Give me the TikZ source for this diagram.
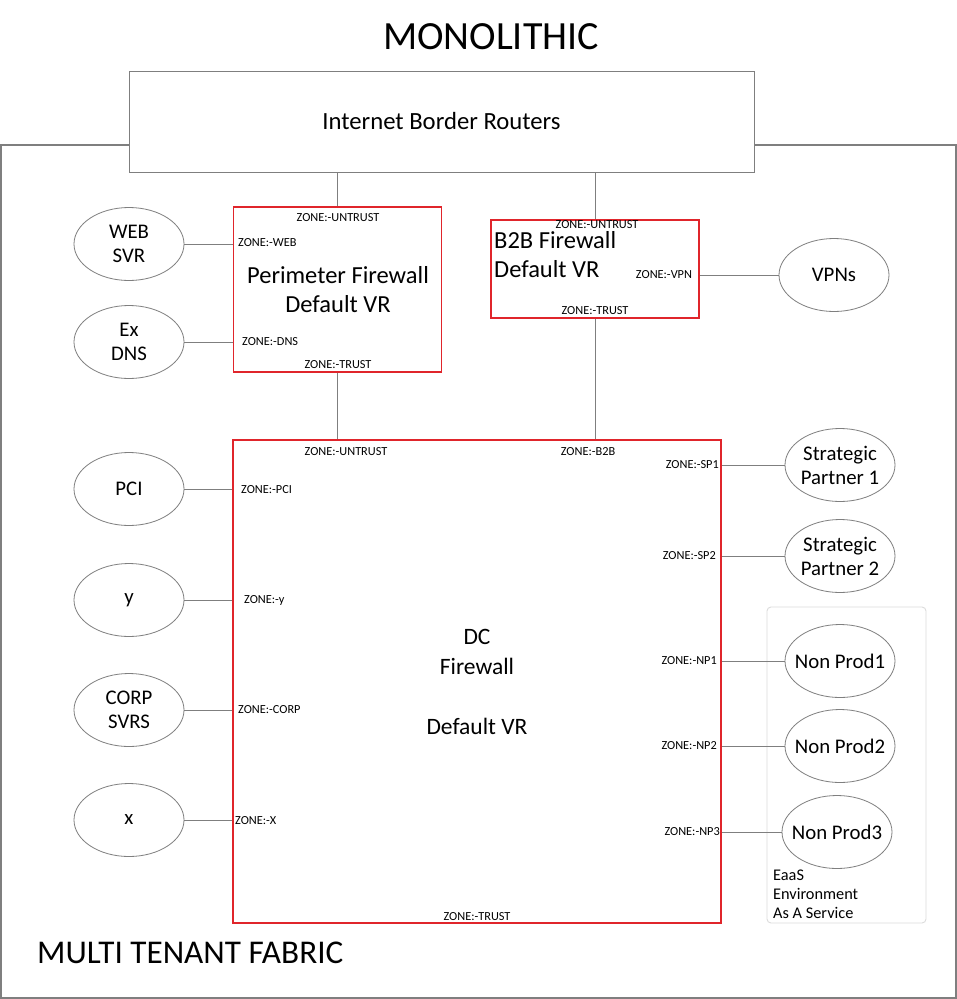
\documentclass[tikz,border=0pt]{standalone}
\usepackage{fontspec}
\setmainfont{Carlito}
\usetikzlibrary{shapes.geometric}
\definecolor{lgray}{HTML}{7F7F7F}
\definecolor{fwred}{HTML}{E0252B}
\definecolor{eaas}{HTML}{DCDCDC}
\tikzset{
  conn/.style={draw=lgray, line width=0.9pt},
  plainbox/.style={draw=lgray, line width=1pt, fill=white, rectangle, inner sep=0pt},
  fwbox/.style={draw=fwred, line width=1.5pt, rectangle, inner sep=0pt},
  oval/.style={draw=lgray, line width=0.8pt, ellipse, inner xsep=-10pt, inner ysep=0pt, minimum width=110pt, minimum height=73pt, align=center, font=\fontsize{20.8}{24}\selectfont},
  zone/.style={font=\fontsize{12.3}{13}\selectfont, inner sep=0pt},
  big/.style={font=\fontsize{24.5}{29}\selectfont, align=center, inner sep=0pt}
}
\begin{document}
\begin{tikzpicture}[x=1pt,y=-1pt]
\useasboundingbox (0,0) rectangle (957,999);
\fill[white] (0,0) rectangle (957,999);
% outer fabric box
\draw[draw=lgray, line width=1.2pt] (1,145) rectangle (956,998);
% internet border routers
\node[plainbox, minimum width=625pt, minimum height=101pt, font=\fontsize{24.7}{28}\selectfont] (ibr) at (441.5,121.5) {Internet Border Routers};
\node[font=\fontsize{40}{46}\selectfont, inner sep=0pt] (title) at (491,37) {MONOLITHIC};
% Perimeter firewall
\node[fwbox, minimum width=208pt, minimum height=165pt] (pfw) at (337.5,289.5) {};
\node[big] (pfwt) at (338,290) {Perimeter Firewall\\Default VR};
\node[zone] (pfwun) at (338,218) {ZONE:-UNTRUST};
\node[zone, anchor=west] (pfwweb) at (238,243) {ZONE:-WEB};
\node[zone, anchor=west] (pfwdns) at (242,342) {ZONE:-DNS};
\node[zone] (pfwtr) at (338,365) {ZONE:-TRUST};
% B2B firewall
\node[fwbox, minimum width=208pt, minimum height=98pt] (bfw) at (595,269) {};
\node[big, align=left, anchor=north west] (bfwt) at (494,231.5) {B2B Firewall\\Default VR};
\node[zone] (bfwun) at (597,224.5) {ZONE:-UNTRUST};
\node[zone] (bfwvpn) at (664,275) {ZONE:-VPN};
\node[zone] (bfwtr) at (595,311) {ZONE:-TRUST};
% DC firewall
\node[fwbox, minimum width=488pt, minimum height=483pt] (dc) at (477,681.5) {};
\node[big, font=\fontsize{23.5}{29.5}\selectfont] (dct) at (477,682) {DC\\Firewall\\[1pt]\strut\\Default VR};
\node[zone] (dcun) at (346,452) {ZONE:-UNTRUST};
\node[zone] (dcb2b) at (588,452) {ZONE:-B2B};
\node[zone] (dctr) at (477,917) {ZONE:-TRUST};
\node[zone, anchor=west] (zpci) at (241,490) {ZONE:-PCI};
\node[zone, anchor=west] (zy) at (244,600) {ZONE:-y};
\node[zone, anchor=west] (zcorp) at (238,710) {ZONE:-CORP};
\node[zone, anchor=west] (zx) at (235,821) {ZONE:-X};
\node[zone, anchor=east] (zsp1) at (719,465) {ZONE:-SP1};
\node[zone, anchor=east] (zsp2) at (716,556) {ZONE:-SP2};
\node[zone, anchor=east] (znp1) at (717,661) {ZONE:-NP1};
\node[zone, anchor=east] (znp2) at (717,746) {ZONE:-NP2};
\node[zone, anchor=east] (znp3) at (720,832) {ZONE:-NP3};
% EaaS group
\draw[draw=eaas, line width=0.9pt, rounded corners=4pt] (767,607) rectangle (926,923);
\node[anchor=north west, align=left, inner sep=0pt, font=\fontsize{16.3}{19}\selectfont] (eaast) at (773,869.5) {EaaS\\Environment\\As A Service};
% ovals
\node[oval] (web) at (129,244) {WEB\\SVR};
\node[oval] (dns) at (129,342) {Ex\\DNS};
\node[oval] (vpn) at (834,275) {VPNs};
\node[oval] (pci) at (129,489) {PCI};
\node[oval] (yy) at (129,600) {y};
\node[oval] (corp) at (129,710) {CORP\\SVRS};
\node[oval] (xx) at (129,820) {x};
\node[oval] (sp1) at (840,465) {Strategic\\Partner 1};
\node[oval] (sp2) at (840,556) {Strategic\\Partner 2};
\node[oval] (np1) at (840,661) {Non Prod1};
\node[oval] (np2) at (840,746) {Non Prod2};
\node[oval] (np3) at (837,832) {Non Prod3};
% connectors
\draw[conn] (ibr.south -| pfw.north) -- (pfw.north);
\draw[conn] (ibr.south -| bfw.north) -- (bfw.north);
\draw[conn] (pfw.south) -- (pfw.south |- dc.north);
\draw[conn] (bfw.south) -- (bfw.south |- dc.north);
\draw[conn] (web.east) -- (web.east -| pfw.west);
\draw[conn] (dns.east) -- (dns.east -| pfw.west);
\draw[conn] (bfw.east |- vpn.west) -- (vpn.west);
\draw[conn] (pci.east) -- (pci.east -| dc.west);
\draw[conn] (yy.east) -- (yy.east -| dc.west);
\draw[conn] (corp.east) -- (corp.east -| dc.west);
\draw[conn] (xx.east) -- (xx.east -| dc.west);
\draw[conn] (dc.east |- sp1.west) -- (sp1.west);
\draw[conn] (dc.east |- sp2.west) -- (sp2.west);
\draw[conn] (dc.east |- np1.west) -- (np1.west);
\draw[conn] (dc.east |- np2.west) -- (np2.west);
\draw[conn] (dc.east |- np3.west) -- (np3.west);
\node[anchor=west, inner sep=0pt, font=\fontsize{33.2}{36}\selectfont] (mtf) at (37,953) {MULTI TENANT FABRIC};
\end{tikzpicture}
\end{document}
